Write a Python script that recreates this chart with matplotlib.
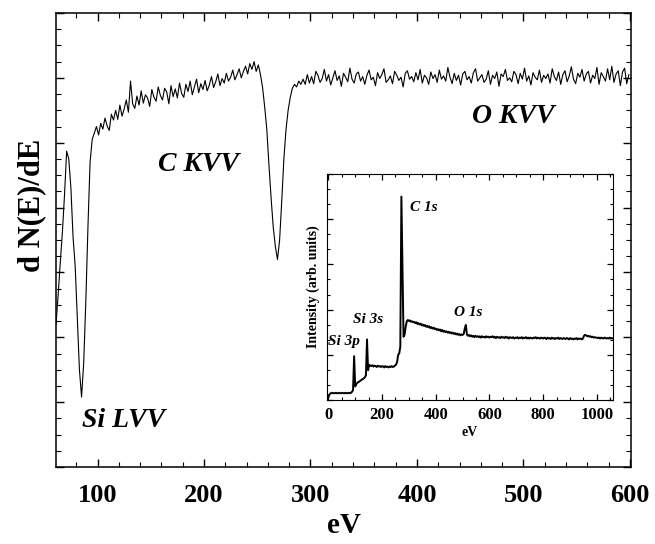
import numpy as np
import matplotlib
matplotlib.use('Agg')
import matplotlib.pyplot as plt
from matplotlib.ticker import MultipleLocator

plt.rcParams['font.family'] = 'Liberation Serif'
plt.rcParams['font.weight'] = 'bold'
plt.rcParams['axes.labelweight'] = 'bold'

# espectro Auger (panel principal), cada 2 eV desde 61 eV
energia = np.arange(61, 601, 2)
dnde = [
    2.20, 2.65, 3.15, 3.62, 4.20, 4.87, 4.75, 4.30, 3.55, 3.10,
    2.30, 1.50, 1.08, 1.60, 2.55, 3.70, 4.70, 5.05, 5.15, 5.25,
    5.12, 5.30, 5.21, 5.38, 5.26, 5.19, 5.44, 5.35, 5.50, 5.36,
    5.58, 5.41, 5.52, 5.66, 5.47, 5.95, 5.60, 5.53, 5.72, 5.58,
    5.80, 5.61, 5.74, 5.69, 5.56, 5.82, 5.70, 5.64, 5.86, 5.73,
    5.66, 5.84, 5.78, 5.60, 5.88, 5.71, 5.83, 5.69, 5.92, 5.76,
    5.70, 5.90, 5.79, 5.95, 5.74, 5.86, 5.98, 5.77, 5.91, 5.82,
    5.96, 5.80, 5.89, 6.02, 5.85, 5.94, 6.06, 5.88, 5.99, 5.92,
    6.07, 5.95, 6.01, 6.12, 5.97, 6.05, 6.14, 6.00, 6.10, 6.18,
    6.06, 6.22, 6.13, 6.25, 6.10, 6.20, 6.05, 5.85, 5.55, 5.20,
    4.65, 4.15, 3.70, 3.40, 3.20, 3.50, 4.10, 4.75, 5.20, 5.50,
    5.70, 5.84, 5.90, 5.86, 5.95, 5.90, 5.98, 5.90, 6.05, 5.92,
    6.02, 5.91, 6.10, 6.04, 5.93, 5.99, 6.13, 5.95, 6.05, 5.89,
    6.00, 6.11, 5.96, 6.03, 5.87, 6.07, 6.01, 5.94, 6.15, 5.98,
    5.92, 6.06, 6.09, 5.95, 6.02, 5.90, 6.04, 6.12, 5.97, 6.01,
    5.88, 6.08, 5.99, 6.05, 6.14, 5.93, 5.97, 6.03, 5.91, 6.10,
    6.04, 5.96, 6.01, 5.86, 6.07, 6.11, 5.98, 6.02, 5.94, 6.08,
    5.97, 6.13, 5.92, 6.04, 6.00, 5.90, 6.09, 5.99, 6.05, 5.93,
    6.12, 5.98, 6.03, 5.95, 6.16, 6.01, 5.91, 6.07, 5.96, 6.04,
    5.89, 6.06, 6.10, 5.97, 6.02, 5.92, 6.08, 6.14, 5.95, 6.00,
    6.05, 5.93, 5.98, 6.11, 5.90, 6.04, 5.99, 6.09, 5.87, 6.06,
    6.02, 6.13, 5.96, 6.00, 5.94, 6.10, 6.05, 5.91, 6.07, 5.98,
    6.15, 5.95, 6.03, 5.89, 6.08, 6.01, 5.97, 6.12, 5.93, 6.04,
    5.99, 6.06, 5.92, 6.14, 6.02, 5.96, 6.09, 5.90, 6.05, 6.11,
    5.94, 6.03, 6.17, 5.98, 5.91, 6.07, 6.01, 6.13, 5.95, 6.06,
    6.10, 5.92, 6.04, 5.99, 6.16, 5.90, 6.08, 6.02, 5.95, 6.14,
    5.97, 6.18, 5.93, 6.06, 6.11, 5.88, 6.09, 6.15, 5.91, 6.05,
]

# espectro XPS (recuadro), cada 4 eV desde 0 eV
energia_xps = np.arange(0, 1064, 4)
intensidad = [
    0.06, 0.12, 0.15, 0.15, 0.16, 0.15, 0.15, 0.16, 0.15, 0.15,
    0.16, 0.15, 0.15, 0.16, 0.15, 0.15, 0.16, 0.15, 0.15, 0.16,
    0.15, 0.16, 0.18, 0.22, 0.97, 0.30, 0.35, 0.38, 0.40, 0.41,
    0.43, 0.45, 0.46, 0.48, 0.50, 0.55, 1.34, 0.66, 0.78, 0.76,
    0.75, 0.77, 0.74, 0.76, 0.75, 0.73, 0.76, 0.74, 0.75, 0.73,
    0.75, 0.74, 0.72, 0.75, 0.73, 0.74, 0.72, 0.74, 0.73, 0.75,
    0.73, 0.74, 0.76, 0.78, 0.84, 1.00, 1.03, 1.18, 4.50, 3.00,
    1.40, 1.45, 1.62, 1.74, 1.77, 1.75, 1.76, 1.73, 1.74, 1.72,
    1.73, 1.70, 1.72, 1.68, 1.70, 1.67, 1.69, 1.65, 1.67, 1.64,
    1.66, 1.62, 1.64, 1.61, 1.63, 1.59, 1.61, 1.58, 1.60, 1.57,
    1.58, 1.55, 1.57, 1.54, 1.56, 1.52, 1.55, 1.51, 1.53, 1.50,
    1.52, 1.49, 1.51, 1.48, 1.50, 1.47, 1.49, 1.46, 1.48, 1.45,
    1.47, 1.44, 1.46, 1.43, 1.45, 1.44, 1.46, 1.58, 1.66, 1.45,
    1.42, 1.44, 1.41, 1.43, 1.40, 1.42, 1.39, 1.42, 1.40, 1.41,
    1.39, 1.41, 1.38, 1.41, 1.39, 1.40, 1.38, 1.41, 1.39, 1.40,
    1.38, 1.40, 1.39, 1.41, 1.38, 1.40, 1.37, 1.40, 1.38, 1.39,
    1.37, 1.40, 1.38, 1.39, 1.37, 1.40, 1.38, 1.39, 1.36, 1.39,
    1.38, 1.37, 1.39, 1.36, 1.38, 1.37, 1.39, 1.36, 1.38, 1.37,
    1.39, 1.36, 1.38, 1.37, 1.39, 1.36, 1.38, 1.36, 1.38, 1.37,
    1.36, 1.38, 1.37, 1.39, 1.36, 1.38, 1.37, 1.36, 1.38, 1.37,
    1.36, 1.38, 1.37, 1.35, 1.38, 1.36, 1.37, 1.35, 1.38, 1.36,
    1.37, 1.35, 1.37, 1.36, 1.38, 1.35, 1.37, 1.36, 1.35, 1.37,
    1.36, 1.35, 1.37, 1.36, 1.34, 1.37, 1.35, 1.36, 1.34, 1.36,
    1.35, 1.37, 1.34, 1.36, 1.35, 1.36, 1.34, 1.36, 1.42, 1.44,
    1.43, 1.41, 1.42, 1.40, 1.41, 1.39, 1.40, 1.38, 1.39, 1.38,
    1.38, 1.37, 1.38, 1.36, 1.38, 1.37, 1.36, 1.38, 1.37, 1.36,
    1.37, 1.36, 1.38, 1.36, 1.37, 1.36,
]

fig = plt.figure(figsize=(6.55, 5.44), dpi=100)

# panel principal
ax = fig.add_axes([56/655, 1 - 467/544, 575/655, 454/544])
ax.plot(energia, dnde, color='black', lw=0.8)
ax.set_xlim(61, 601)
ax.set_ylim(0, 7)
ax.xaxis.set_major_locator(MultipleLocator(100))
ax.xaxis.set_minor_locator(MultipleLocator(20))
ax.yaxis.set_major_locator(MultipleLocator(1))
ax.yaxis.set_minor_locator(MultipleLocator(0.25))
ax.tick_params(which='both', direction='in', top=True, right=True, labelleft=False)
ax.tick_params(which='major', length=6, width=1)
ax.tick_params(which='minor', length=3.5, width=0.8)
ax.tick_params(axis='x', labelsize=19, pad=12)
for s in ax.spines.values():
    s.set_linewidth(1.1)
ax.set_xlabel('eV', fontsize=21, labelpad=4)
fig.text(32/655, 1 - 205/544, 'd N(E)/dE', rotation=90, ha='center', va='center', fontsize=22)

ax.text(124, 0.72, 'Si LVV', style='italic', fontsize=20, ha='center', va='center')
ax.text(195, 4.67, 'C KVV', style='italic', fontsize=20, ha='center', va='center')
ax.text(490, 5.40, 'O KVV', style='italic', fontsize=20, ha='center', va='center')

# recuadro XPS
ins = fig.add_axes([327/655, 1 - 400/544, 286/655, 226/544])
ins.plot(energia_xps, intensidad, color='black', lw=1.4)
ins.set_xlim(-5, 1060)
ins.set_ylim(0, 5)
ins.xaxis.set_major_locator(MultipleLocator(200))
ins.xaxis.set_minor_locator(MultipleLocator(50))
ins.yaxis.set_major_locator(MultipleLocator(1))
ins.yaxis.set_minor_locator(MultipleLocator(1/3))
ins.tick_params(which='both', direction='in', top=True, right=True, labelleft=False)
ins.tick_params(which='major', length=4, width=0.9)
ins.tick_params(which='minor', length=2.5, width=0.8)
ins.tick_params(axis='x', labelsize=12, pad=5)
ins.set_xlabel('eV', fontsize=10, labelpad=2)
ins.set_ylabel('Intensity (arb. units)', fontsize=10, labelpad=5)

ins.text(355, 4.26, 'C 1s', style='italic', fontsize=11, ha='center', va='center')
ins.text(148, 1.78, 'Si 3s', style='italic', fontsize=11, ha='center', va='center')
ins.text(58, 1.29, 'Si 3p', style='italic', fontsize=11, ha='center', va='center')
ins.text(519, 1.93, 'O 1s', style='italic', fontsize=11, ha='center', va='center')

plt.savefig('out.png', dpi=100)
